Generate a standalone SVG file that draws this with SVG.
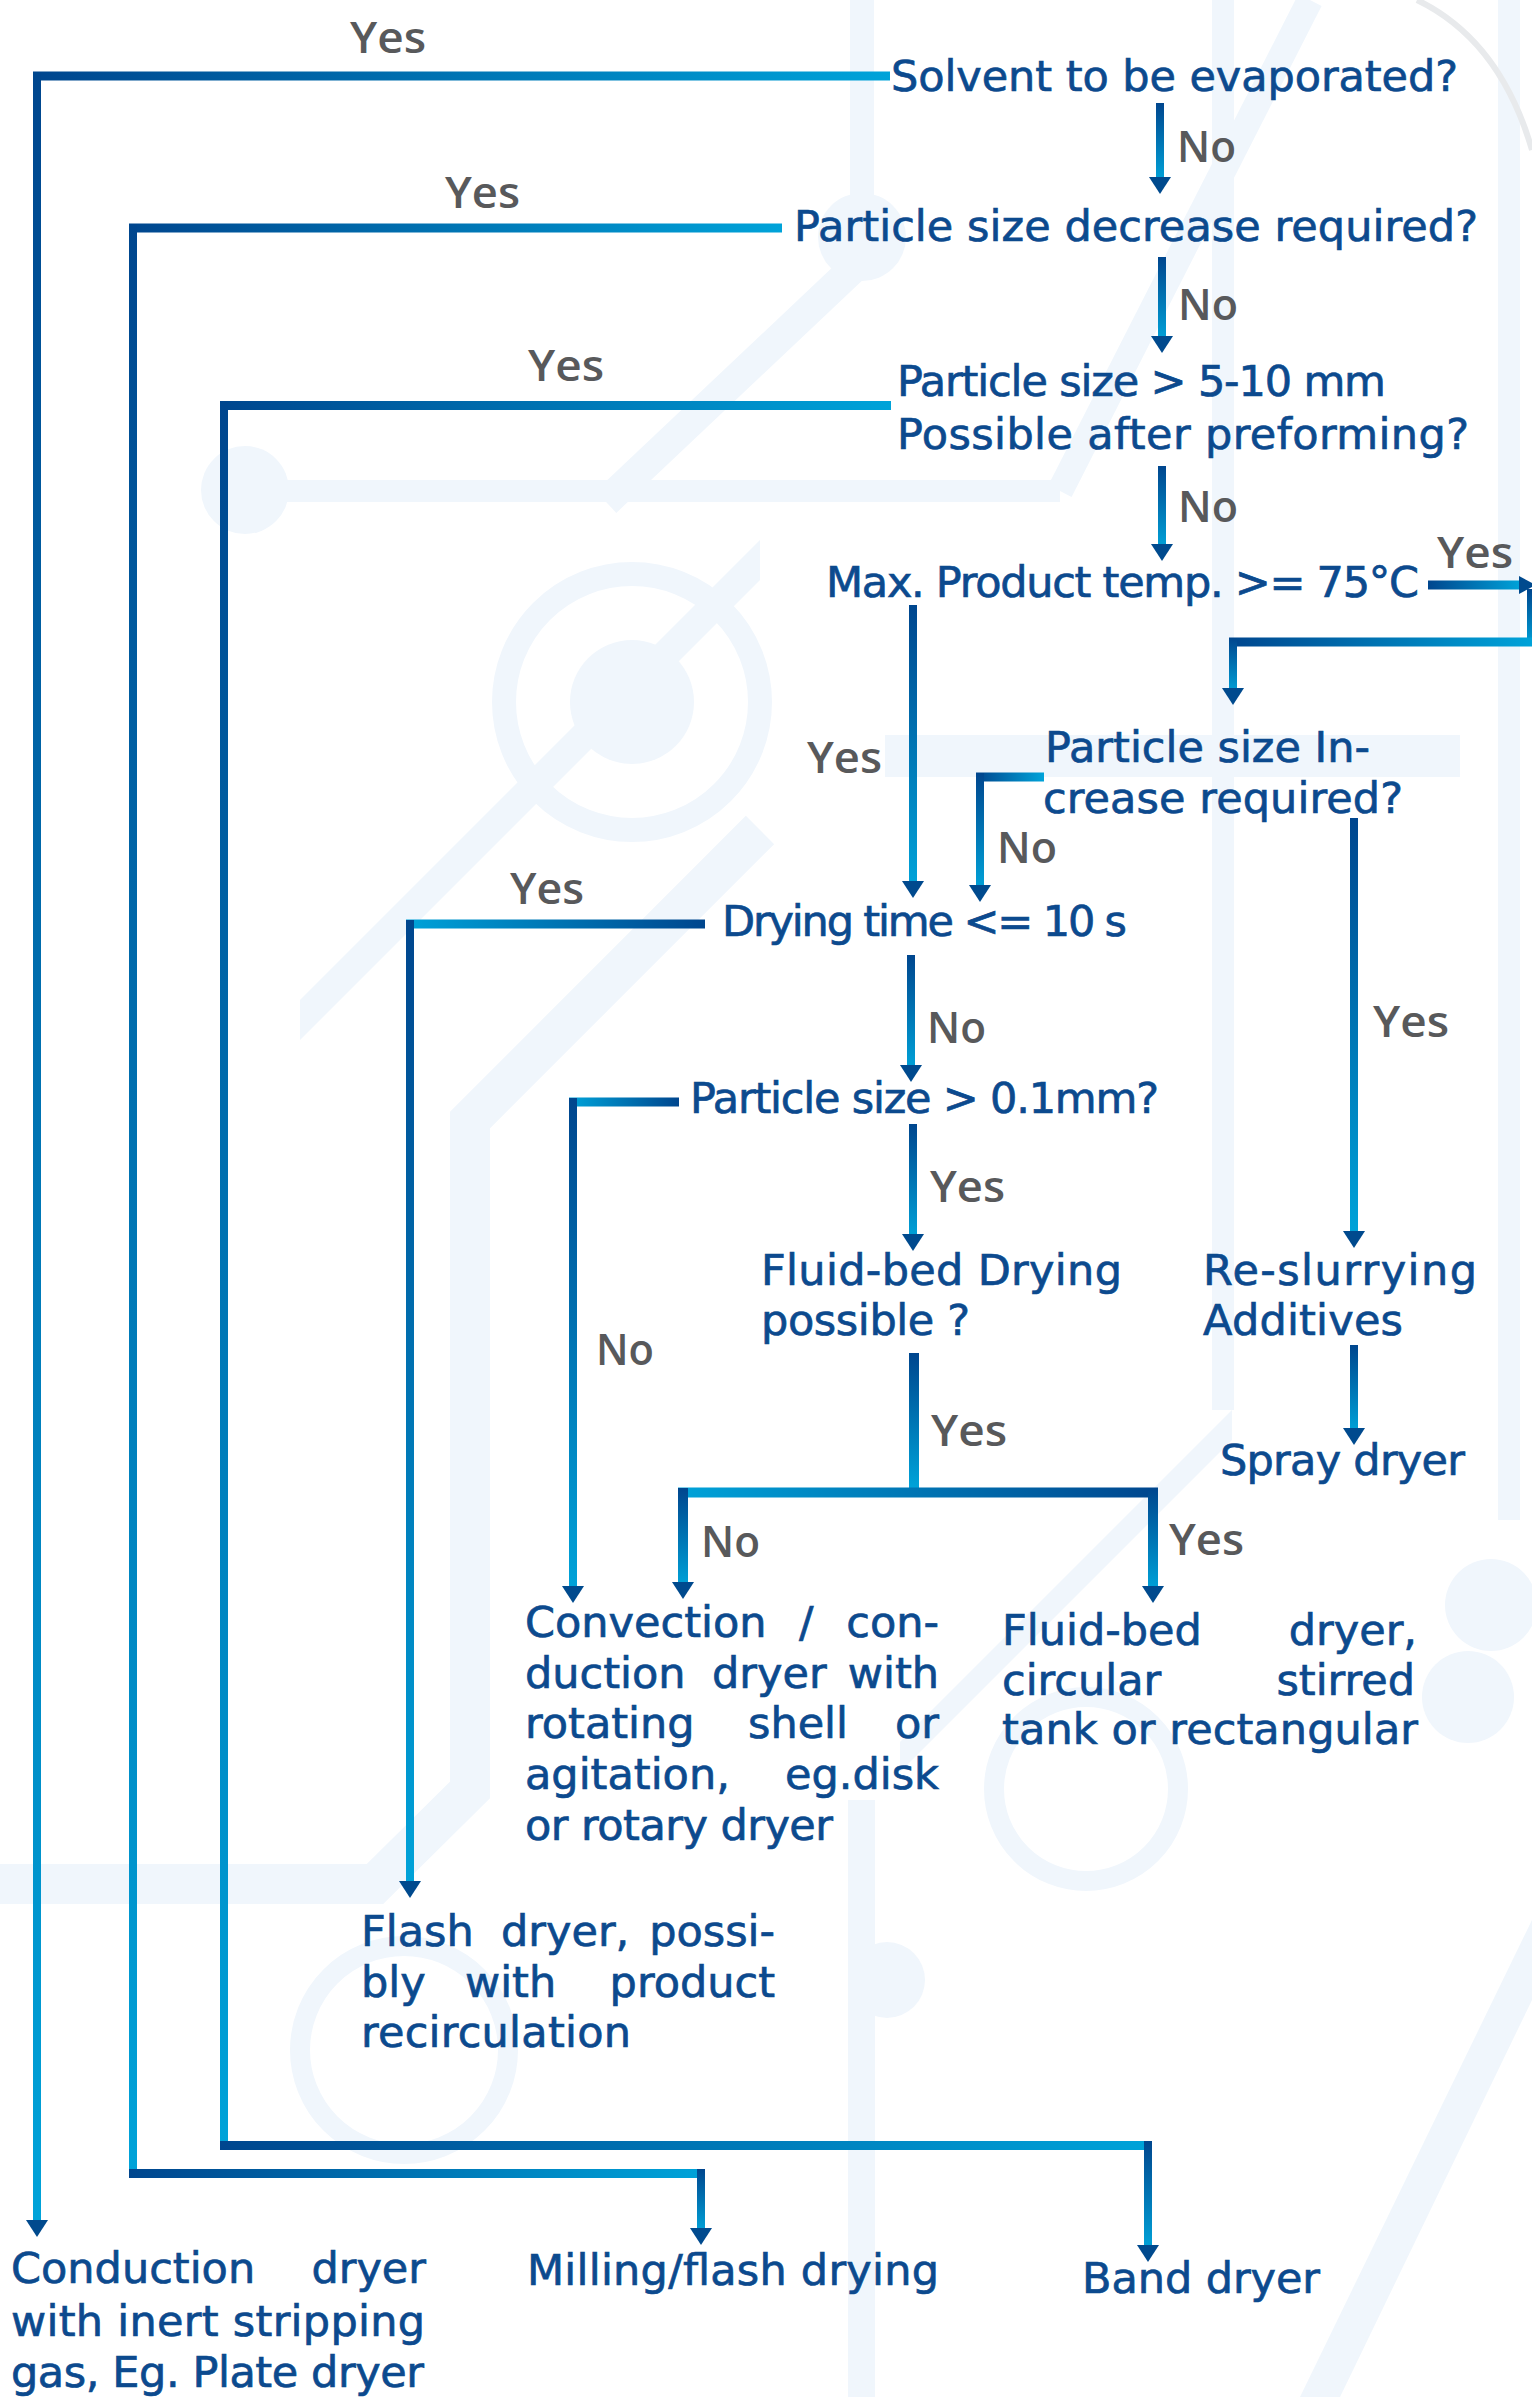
<svg xmlns="http://www.w3.org/2000/svg" xmlns:xlink="http://www.w3.org/1999/xlink" width="1532" height="2397" viewBox="0 0 1532 2397">
<defs>
<style>
.t{font-family:"DejaVu Sans","Liberation Sans",sans-serif;font-size:43px;fill:#0c4a8e;stroke:#0c4a8e;stroke-width:0.7px}
.l{font-family:"Open Sans","DejaVu Sans",sans-serif;font-weight:600;font-size:43px;fill:#58595b}
.bg{fill:#f0f6fc}
.bgs{fill:none;stroke:#f0f6fc}
.ah{fill:#004a8e}
</style>
<linearGradient id="gh" x1="0" y1="0" x2="1" y2="0"><stop offset="0" stop-color="#00468e"/><stop offset="1" stop-color="#00a3d9"/></linearGradient>
<linearGradient id="ghr" x1="0" y1="0" x2="1" y2="0"><stop offset="0" stop-color="#00a3d9"/><stop offset="1" stop-color="#00468e"/></linearGradient>
<linearGradient id="gv" x1="0" y1="0" x2="0" y2="1"><stop offset="0" stop-color="#00468e"/><stop offset="1" stop-color="#00a3d9"/></linearGradient>
<path id="ad" d="M-11,-17 L11,-17 L0,0 Z"/>
<path id="ar" d="M-17,-9 L-17,9 L0,0 Z"/>
</defs>
<rect width="1532" height="2397" fill="#ffffff"/>
<g id="background">
<rect class="bg" x="850" y="0" width="24" height="240"/>
<circle class="bg" cx="862" cy="237" r="44"/>
<path class="bgs" d="M862,260 L606,502" stroke-width="30"/>
<rect class="bg" x="1212" y="0" width="22" height="1410"/>
<rect class="bg" x="1498" y="0" width="22" height="1520"/>
<rect class="bg" x="245" y="480" width="815" height="22"/>
<circle class="bg" cx="245" cy="490" r="44"/>
<path class="bgs" d="M1060,491 L1310,0" stroke-width="26"/>
<circle class="bgs" cx="632" cy="702" r="128" stroke-width="24"/>
<circle class="bg" cx="632" cy="702" r="62"/>
<rect class="bg" x="885" y="735" width="575" height="42"/>
<polygon class="bg" points="300,1000 300,1040 760,580 760,540"/>
<path class="bgs" d="M760,830 L470,1120 L470,1790 L375,1884 L0,1884" stroke-width="40"/>
<polygon class="bg" points="1232,1410 1232,1440 900,1772 900,1742"/>
<circle class="bgs" cx="1086" cy="1789" r="92" stroke-width="20"/>
<circle class="bg" cx="887" cy="1980" r="38"/>
<circle class="bg" cx="1491" cy="1605" r="46"/>
<circle class="bg" cx="1468" cy="1697" r="46"/>
<circle class="bgs" cx="404" cy="2050" r="104" stroke-width="20"/>
<rect class="bg" x="848" y="1800" width="27" height="597"/>
<polygon class="bg" points="1300,2397 1340,2397 1532,2000 1532,1920"/>
<path d="M1417,0 Q1500,40 1532,150" fill="none" stroke="#e8eaec" stroke-width="6"/>
</g>
<g id="connectors">
<rect x="33" y="71.5" width="857" height="9" fill="url(#gh)"/>
<rect x="33" y="72" width="8" height="2150" fill="url(#gv)"/>
<use href="#ad" class="ah" x="37" y="2237"/>
<rect x="1156" y="103" width="8" height="78" fill="url(#gv)"/>
<use href="#ad" class="ah" x="1160" y="194"/>
<rect x="129" y="223.5" width="653" height="9" fill="url(#gh)"/>
<rect x="129" y="224" width="8" height="1954" fill="url(#gv)"/>
<rect x="129" y="2169" width="576" height="9" fill="url(#gh)"/>
<rect x="697" y="2169" width="8" height="63" fill="url(#gv)"/>
<use href="#ad" class="ah" x="701" y="2245"/>
<rect x="1158" y="257" width="8" height="84" fill="url(#gv)"/>
<use href="#ad" class="ah" x="1162" y="353"/>
<rect x="220" y="401" width="671" height="9" fill="url(#gh)"/>
<rect x="220" y="401" width="8" height="1749" fill="url(#gv)"/>
<rect x="220" y="2141" width="932" height="9" fill="url(#gh)"/>
<rect x="1144" y="2141" width="8" height="108" fill="url(#gv)"/>
<use href="#ad" class="ah" x="1148" y="2262"/>
<rect x="1158" y="466" width="8" height="83" fill="url(#gv)"/>
<use href="#ad" class="ah" x="1162" y="561"/>
<rect x="1428" y="580.5" width="93" height="9" fill="url(#gh)"/>
<use href="#ar" class="ah" x="1536" y="585"/>
<rect x="1527" y="589" width="6" height="57" fill="url(#gv)"/>
<rect x="1229" y="637.5" width="304" height="9" fill="url(#gh)"/>
<rect x="1229" y="638" width="8" height="56" fill="url(#gv)"/>
<use href="#ad" class="ah" x="1233" y="705"/>
<rect x="909" y="605" width="8" height="281" fill="url(#gv)"/>
<use href="#ad" class="ah" x="913" y="898"/>
<rect x="976" y="772.5" width="68" height="9" fill="url(#gh)"/>
<rect x="976" y="773" width="8" height="117" fill="url(#gv)"/>
<use href="#ad" class="ah" x="980" y="902"/>
<rect x="1350" y="818" width="8" height="417" fill="url(#gv)"/>
<use href="#ad" class="ah" x="1354" y="1248"/>
<rect x="406" y="919.5" width="299" height="9" fill="url(#ghr)"/>
<rect x="406" y="920" width="8" height="966" fill="url(#gv)"/>
<use href="#ad" class="ah" x="410" y="1898"/>
<rect x="907" y="955" width="8" height="115" fill="url(#gv)"/>
<use href="#ad" class="ah" x="911" y="1082"/>
<rect x="569" y="1097.5" width="110" height="9" fill="url(#ghr)"/>
<rect x="569" y="1098" width="8" height="493" fill="url(#gv)"/>
<use href="#ad" class="ah" x="573" y="1603"/>
<rect x="909" y="1124" width="8" height="115" fill="url(#gv)"/>
<use href="#ad" class="ah" x="913" y="1251"/>
<rect x="909" y="1353" width="10" height="135" fill="url(#gv)"/>
<rect x="678" y="1487.5" width="480" height="10" fill="url(#ghr)"/>
<rect x="678" y="1488" width="10" height="99" fill="url(#gv)"/>
<use href="#ad" class="ah" x="683" y="1599"/>
<rect x="1148" y="1488" width="10" height="103" fill="url(#gv)"/>
<use href="#ad" class="ah" x="1153" y="1603"/>
<rect x="1350" y="1345" width="8" height="88" fill="url(#gv)"/>
<use href="#ad" class="ah" x="1354" y="1445"/>
</g>
<g id="labels">
<text class="l" x="350" y="53" textLength="76" lengthAdjust="spacingAndGlyphs">Yes</text>
<text class="l" x="1177" y="162" textLength="59" lengthAdjust="spacingAndGlyphs">No</text>
<text class="l" x="445" y="208" textLength="75" lengthAdjust="spacingAndGlyphs">Yes</text>
<text class="l" x="1178" y="320" textLength="60" lengthAdjust="spacingAndGlyphs">No</text>
<text class="l" x="528" y="381" textLength="76" lengthAdjust="spacingAndGlyphs">Yes</text>
<text class="l" x="1178" y="522" textLength="60" lengthAdjust="spacingAndGlyphs">No</text>
<text class="l" x="1437" y="568" textLength="76" lengthAdjust="spacingAndGlyphs">Yes</text>
<text class="l" x="807" y="773" textLength="75" lengthAdjust="spacingAndGlyphs">Yes</text>
<text class="l" x="997" y="863" textLength="60" lengthAdjust="spacingAndGlyphs">No</text>
<text class="l" x="1373" y="1037" textLength="76" lengthAdjust="spacingAndGlyphs">Yes</text>
<text class="l" x="510" y="904" textLength="74" lengthAdjust="spacingAndGlyphs">Yes</text>
<text class="l" x="927" y="1043" textLength="59" lengthAdjust="spacingAndGlyphs">No</text>
<text class="l" x="930" y="1202" textLength="75" lengthAdjust="spacingAndGlyphs">Yes</text>
<text class="l" x="596" y="1365" textLength="58" lengthAdjust="spacingAndGlyphs">No</text>
<text class="l" x="931" y="1446" textLength="76" lengthAdjust="spacingAndGlyphs">Yes</text>
<text class="l" x="1169" y="1555" textLength="75" lengthAdjust="spacingAndGlyphs">Yes</text>
<text class="l" x="701" y="1557" textLength="59" lengthAdjust="spacingAndGlyphs">No</text>
</g>
<g id="n-solvent"><text class="t" x="891" y="91" textLength="567">Solvent to be evaporated?</text></g>
<g id="n-decrease"><text class="t" x="794" y="241" textLength="684">Particle size decrease required?</text></g>
<g id="n-preform"><text class="t" x="897" y="396" textLength="489">Particle size &gt; 5-10 mm</text><text class="t" x="897" y="449" textLength="572">Possible after preforming?</text></g>
<g id="n-maxtemp"><text class="t" x="826" y="597" textLength="593">Max. Product temp. &gt;= 75°C</text></g>
<g id="n-increase"><text class="t" x="1045" y="762" textLength="325">Particle size In-</text><text class="t" x="1043" y="813" textLength="360">crease required?</text></g>
<g id="n-drying"><text class="t" x="722" y="936" textLength="405">Drying time &lt;= 10 s</text></g>
<g id="n-size01"><text class="t" x="690" y="1113" textLength="469">Particle size &gt; 0.1mm?</text></g>
<g id="n-fluidq"><text class="t" x="761" y="1285" textLength="361">Fluid-bed Drying</text><text class="t" x="761" y="1335" textLength="209">possible ?</text></g>
<g id="n-reslurry"><text class="t" x="1203" y="1285" textLength="274">Re-slurrying</text><text class="t" x="1203" y="1335" textLength="200">Additives</text></g>
<g id="n-spray"><text class="t" x="1220" y="1475" textLength="245">Spray dryer</text></g>
<g id="n-fluiddryer">
<text class="t" x="1002" y="1645">Fluid-bed<tspan x="1417" text-anchor="end">dryer,</tspan></text>
<text class="t" x="1002" y="1695">circular<tspan x="1415" text-anchor="end">stirred</tspan></text>
<text class="t" x="1002" y="1744" textLength="416">tank or rectangular</text>
</g>
<g id="n-convection">
<text class="t" x="525" y="1637">Convection<tspan x="799">/</tspan><tspan x="939" text-anchor="end">con-</tspan></text>
<text class="t" x="525" y="1688">duction<tspan x="712">dryer</tspan><tspan x="939" text-anchor="end">with</tspan></text>
<text class="t" x="525" y="1738">rotating<tspan x="748">shell</tspan><tspan x="939" text-anchor="end">or</tspan></text>
<text class="t" x="525" y="1789">agitation,<tspan x="939" text-anchor="end">eg.disk</tspan></text>
<text class="t" x="525" y="1840" textLength="308">or rotary dryer</text>
</g>
<g id="n-flash">
<text class="t" x="361" y="1946">Flash<tspan x="501">dryer,</tspan><tspan x="775" text-anchor="end">possi-</tspan></text>
<text class="t" x="361" y="1997">bly<tspan x="465">with</tspan><tspan x="775" text-anchor="end">product</tspan></text>
<text class="t" x="361" y="2047" textLength="270">recirculation</text>
</g>
<g id="n-conduction">
<text class="t" x="11" y="2283">Conduction<tspan x="426" text-anchor="end">dryer</tspan></text>
<text class="t" x="11" y="2336" textLength="414">with inert stripping</text>
<text class="t" x="11" y="2387" textLength="413">gas, Eg. Plate dryer</text>
</g>
<g id="n-milling"><text class="t" x="527" y="2285" textLength="412">Milling/flash drying</text></g>
<g id="n-band"><text class="t" x="1082" y="2293" textLength="238">Band dryer</text></g>
</svg>
